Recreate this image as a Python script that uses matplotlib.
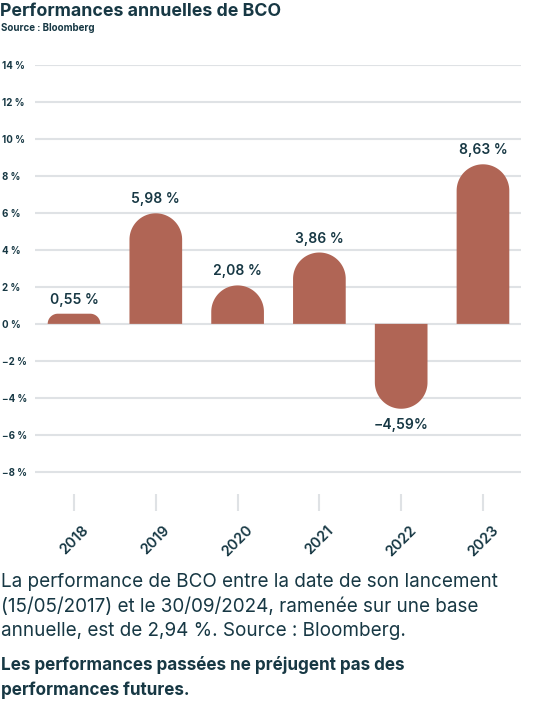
import matplotlib
matplotlib.use("Agg")
import matplotlib.pyplot as plt
from matplotlib.path import Path
from matplotlib.patches import PathPatch
import numpy as np

# data
years = ["2018", "2019", "2020", "2021", "2022", "2023"]
perf = [0.55, 5.98, 2.08, 3.86, -4.59, 8.63]
perf_labels = ["0,55 %", "5,98 %", "2,08 %", "3,86 %", "-4,59%", "8,63 %"]
yticks = [-8, -6, -4, -2, 0, 2, 4, 6, 8, 10, 12, 14]

TXT = "#173844"
BAR = "#b06555"
GRID = "#dfe2e5"

plt.rcParams['font.family'] = ['Inter', 'DejaVu Sans']

W, H = 557, 701
fig = plt.figure(figsize=(W / 100, H / 100), dpi=100)
left, right, top, bottom = 35, 521, 65, 494
ax = fig.add_axes([left / W, 1 - bottom / H, (right - left) / W, (bottom - top) / H])
ax.set_xlim(-0.477, 5.465)
ax.set_ylim(-9.2, 14.0)

for s in ax.spines.values():
    s.set_visible(False)

ax.set_yticks(yticks)
ax.set_yticklabels([f"{t} %".replace("-", "\u2212") for t in yticks], ha="left",
                   fontsize=7, fontweight="bold", color=TXT)
ax.tick_params(axis="y", length=0, pad=24)
ax.grid(axis="y", color=GRID, linewidth=1.5)
ax.set_axisbelow(True)

x = np.arange(len(years))
ax.set_xticks(x)
ax.set_xticklabels(years, rotation=45, ha="center", va="top",
                   fontsize=10.5, fontweight="semibold", color=TXT)
ax.tick_params(axis="x", length=12, width=1.5, color=GRID, pad=9)

# rounded bars built in data coords so corners look circular on screen
p0 = ax.transData.transform((0, 0))
p1 = ax.transData.transform((1, 1))
sx, sy = p1[0] - p0[0], p1[1] - p0[1]
hw = 0.322

for xi, v, lab in zip(x, perf, perf_labels):
    h = abs(v)
    sign = 1 if v >= 0 else -1
    r_px = min(hw * sx, h * sy)
    rx, ry = r_px / sx, r_px / sy
    t = np.linspace(np.pi, np.pi / 2, 30)
    left_arc = [(xi - hw + rx + rx * np.cos(a), sign * (h - ry + ry * np.sin(a))) for a in t]
    t2 = np.linspace(np.pi / 2, 0, 30)
    right_arc = [(xi + hw - rx + rx * np.cos(a), sign * (h - ry + ry * np.sin(a))) for a in t2]
    verts = [(xi - hw, 0)] + left_arc + right_arc + [(xi + hw, 0), (xi - hw, 0)]
    ax.add_patch(PathPatch(Path(verts), facecolor=BAR, edgecolor="none", zorder=3))
    off = (14 if v >= 0 else 16) / sy
    ax.text(xi, v + sign * off, lab.replace("-", "\u2212"), ha="center", va="center",
            fontsize=10, fontweight="semibold", color=TXT)

fig.text(0 / W, 1 - 12 / H, "Performances annuelles de BCO", ha="left", va="center",
         fontsize=12.8, fontweight="bold", color=TXT)
fig.text(1 / W, 1 - 28 / H, "Source : Bloomberg", ha="left", va="center",
         fontsize=7, fontweight="bold", color=TXT)

para1 = ["La performance de BCO entre la date de son lancement",
         "(15/05/2017) et le 30/09/2024, ramenée sur une base",
         "annuelle, est de 2,94 %. Source : Bloomberg."]
for i, line in enumerate(para1):
    fig.text(1 / W, 1 - (582 + i * 24.5) / H, line, ha="left", va="center",
             fontsize=13.6, color=TXT)
para2 = ["Les performances passées ne préjugent pas des",
         "performances futures."]
for i, line in enumerate(para2):
    fig.text(1 / W, 1 - (665 + i * 25) / H, line, ha="left", va="center",
             fontsize=12.3, fontweight="bold", color=TXT)

fig.savefig("out.png", dpi=100)
